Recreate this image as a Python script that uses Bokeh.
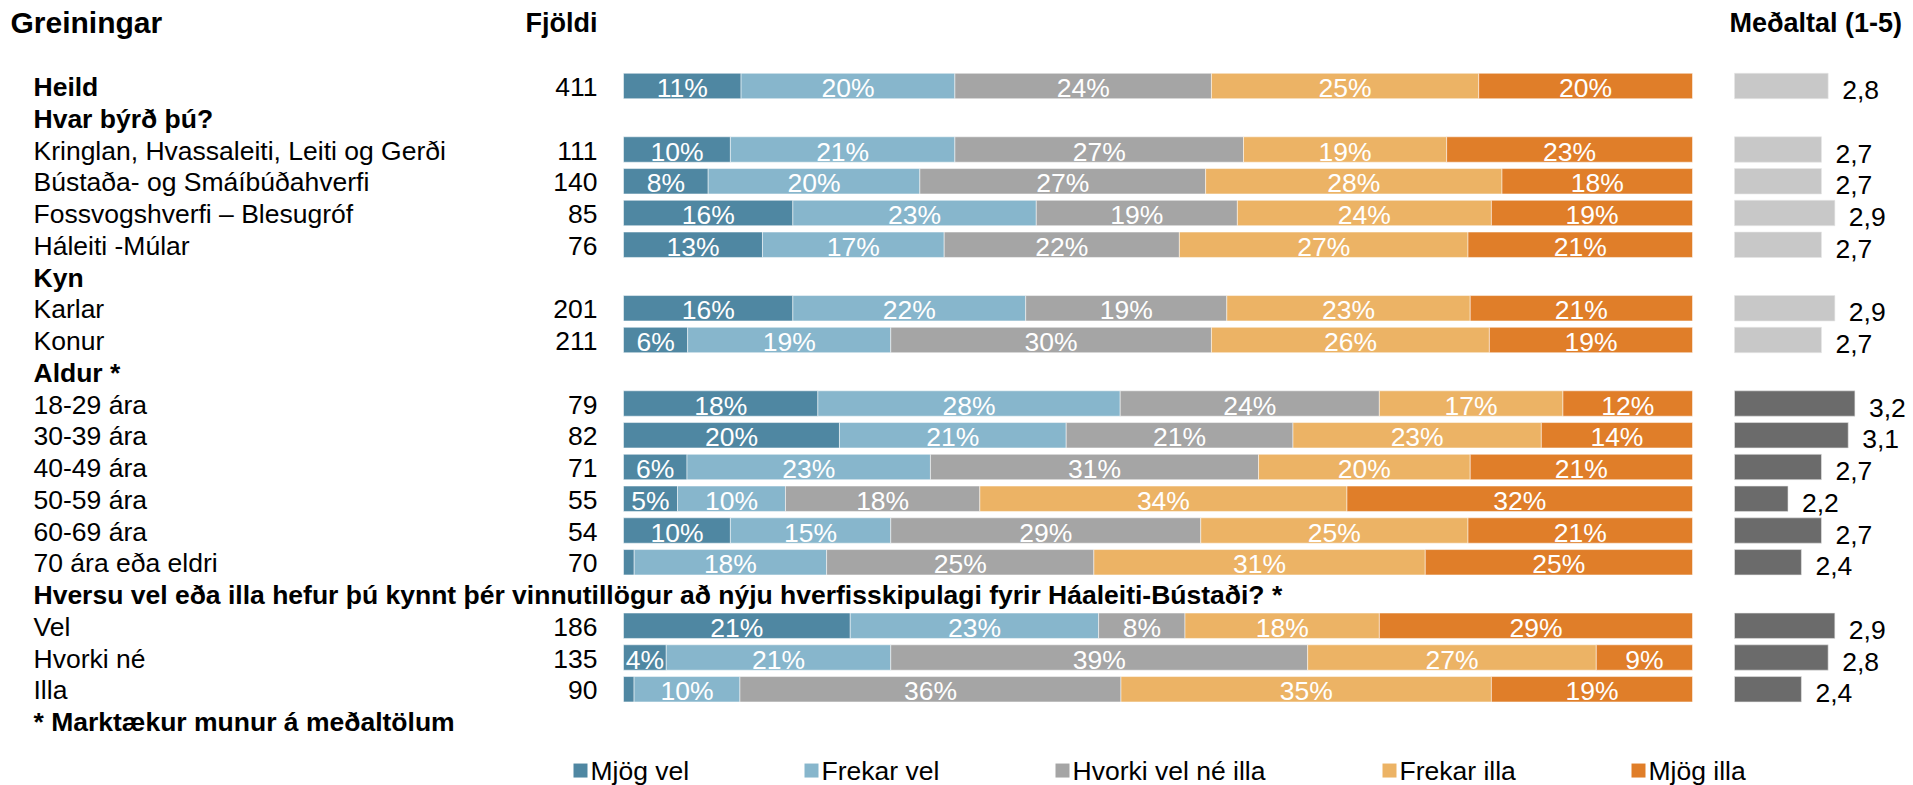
from bokeh.plotting import figure
from bokeh.models import Range1d, ColumnDataSource
from bokeh.core.properties import value
from bokeh.embed import file_html
from bokeh.resources import INLINE

# ---------------- data ----------------
row_labels = [
    "Heild",
    "Hvar býrð þú?",
    "Kringlan, Hvassaleiti, Leiti og Gerði",
    "Bústaða- og Smáíbúðahverfi",
    "Fossvogshverfi – Blesugróf",
    "Háleiti -Múlar",
    "Kyn",
    "Karlar",
    "Konur",
    "Aldur *",
    "18-29 ára",
    "30-39 ára",
    "40-49 ára",
    "50-59 ára",
    "60-69 ára",
    "70 ára eða eldri",
    "Hversu vel eða illa hefur þú kynnt þér vinnutillögur að nýju hverfisskipulagi fyrir Háaleiti-Bústaði? *",
    "Vel",
    "Hvorki né",
    "Illa",
    "* Marktækur munur á meðaltölum",
]
bold_rows = [
    "Heild",
    "Hvar býrð þú?",
    "Kyn",
    "Aldur *",
    "Hversu vel eða illa hefur þú kynnt þér vinnutillögur að nýju hverfisskipulagi fyrir Háaleiti-Bústaði? *",
    "* Marktækur munur á meðaltölum",
]
data_rows = [
    "Heild",
    "Kringlan, Hvassaleiti, Leiti og Gerði",
    "Bústaða- og Smáíbúðahverfi",
    "Fossvogshverfi – Blesugróf",
    "Háleiti -Múlar",
    "Karlar",
    "Konur",
    "18-29 ára",
    "30-39 ára",
    "40-49 ára",
    "50-59 ára",
    "60-69 ára",
    "70 ára eða eldri",
    "Vel",
    "Hvorki né",
    "Illa",
]
fjoldi = [411, 111, 140, 85, 76, 201, 211, 79, 82, 71, 55, 54, 70, 186, 135, 90]
mjog_vel = [11, 10, 8, 16, 13, 16, 6, 18, 20, 6, 5, 10, 1, 21, 4, 1]
frekar_vel = [20, 21, 20, 23, 17, 22, 19, 28, 21, 23, 10, 15, 18, 23, 21, 10]
hvorki = [24, 27, 27, 19, 22, 19, 30, 24, 21, 31, 18, 29, 25, 8, 39, 36]
frekar_illa = [25, 19, 28, 24, 27, 23, 26, 17, 23, 20, 34, 25, 31, 18, 27, 35]
mjog_illa = [20, 23, 18, 19, 21, 21, 19, 12, 14, 21, 32, 21, 25, 29, 9, 19]
medaltal = [2.8, 2.7, 2.7, 2.9, 2.7, 2.9, 2.7, 3.2, 3.1, 2.7, 2.2, 2.7, 2.4, 2.9, 2.8, 2.4]
marktaekt = [False] * 7 + [True] * 9

series_names = ["Mjög vel", "Frekar vel", "Hvorki vel né illa", "Frekar illa", "Mjög illa"]
series_values = [mjog_vel, frekar_vel, hvorki, frekar_illa, mjog_illa]
series_colors = ["#4F87A2", "#87B6CC", "#A5A5A5", "#ECB365", "#E07E29"]
mean_colors = {False: "#C8C8C8", True: "#6B6B6B"}

FONT = value("Liberation Sans")
FS = "26.5px"

# ---------------- layout ----------------
W, H = 1913, 785
PX0, PX100 = 623.0, 1692.0          # px of 0% and 100%
ppu = (PX100 - PX0) / 100.0
ROW0, PITCH = 85.5, 31.75            # px of first row centre, row pitch
MEAN_BASE, MEAN_PX0, MEAN_PPU = 1.4, 1734.0, 66.9

p = figure(
    width=W, height=H,
    x_range=Range1d(-PX0 / ppu, (W - PX0) / ppu),
    y_range=Range1d((H - ROW0) / PITCH, -ROW0 / PITCH),
    toolbar_location=None, output_backend="svg",
    min_border=0, x_axis_location=None, y_axis_location=None,
    outline_line_color=None,
)
p.grid.visible = False
m_start = MEAN_BASE - MEAN_PX0 / MEAN_PPU
p.extra_x_ranges = {
    "mean": Range1d(m_start, m_start + W / MEAN_PPU),
    "px": Range1d(0, W),
}

ys = [row_labels.index(r) for r in data_rows]
BAR_H = 0.80

# stacked 100% bars
totals = [sum(s[i] for s in series_values) for i in range(len(data_rows))]
cum = [0.0] * len(data_rows)
for name, vals, col in zip(series_names, series_values, series_colors):
    left = list(cum)
    right = [cum[i] + vals[i] * 100.0 / totals[i] for i in range(len(vals))]
    cum = right
    src = ColumnDataSource(dict(
        y=ys, left=left, right=right,
        mid=[(a + b) / 2 for a, b in zip(left, right)],
        lab=[f"{v}%" if v >= 3 else "" for v in vals],
    ))
    p.hbar(y="y", left="left", right="right", height=BAR_H, source=src,
           fill_color=col, line_color="white", line_width=0.5)
    p.text(x="mid", y="y", text="lab", source=src, text_font=FONT,
           text_font_size=FS, text_color="white", text_align="center",
           text_baseline="middle", y_offset=2)

# mean bars
msrc = ColumnDataSource(dict(
    y=ys, m=medaltal,
    col=[mean_colors[s] for s in marktaekt],
    lab=[f"{v:.1f}".replace(".", ",") for v in medaltal],
))
p.hbar(y="y", left=MEAN_BASE, right="m", height=BAR_H, source=msrc,
       fill_color="col", line_color="#E6E6E6", line_width=0.6, x_range_name="mean")
p.text(x="m", y="y", text="lab", source=msrc, x_range_name="mean", x_offset=14,
       y_offset=4, text_font=FONT, text_font_size=FS, text_color="black",
       text_align="left", text_baseline="middle")

# counts
csrc = ColumnDataSource(dict(y=ys, x=[597] * len(ys), lab=[str(n) for n in fjoldi]))
p.text(x="x", y="y", text="lab", source=csrc, x_range_name="px", text_font=FONT,
       text_font_size=FS, text_color="black", text_align="right",
       text_baseline="middle", y_offset=1)

# row labels
reg = [(i, t) for i, t in enumerate(row_labels) if t not in bold_rows]
bld = [(i, t) for i, t in enumerate(row_labels) if t in bold_rows]
for rows, style in ((reg, "normal"), (bld, "bold")):
    src = ColumnDataSource(dict(y=[r[0] for r in rows], x=[33] * len(rows),
                                lab=[r[1] for r in rows]))
    p.text(x="x", y="y", text="lab", source=src, x_range_name="px",
           text_font=FONT, text_font_size=FS, text_font_style=style,
           text_color="black", text_align="left", text_baseline="middle", y_offset=1)

# column headers
hdr_y = -2.0
p.text(x=[10], y=[hdr_y], text=["Greiningar"], x_range_name="px", text_font=FONT,
       text_font_size="30px", text_font_style="bold", text_color="black",
       text_align="left", text_baseline="middle")
p.text(x=[597], y=[hdr_y], text=["Fjöldi"], x_range_name="px", text_font=FONT,
       text_font_size="27px", text_font_style="bold", text_color="black",
       text_align="right", text_baseline="middle")
p.text(x=[1729], y=[hdr_y], text=["Meðaltal (1-5)"], x_range_name="px", text_font=FONT,
       text_font_size="27px", text_font_style="bold", text_color="black",
       text_align="left", text_baseline="middle")

# legend
leg_x = [573, 804, 1055, 1382, 1631]
leg_y = 21.56
p.rect(x=[x + 7 for x in leg_x], y=[leg_y] * 5, width=14, height=14,
       width_units="screen", height_units="screen", x_range_name="px",
       fill_color=series_colors, line_color=None)
p.text(x=[x + 17 for x in leg_x], y=[leg_y] * 5, text=series_names, x_range_name="px",
       text_font=FONT, text_font_size=FS, text_color="black",
       text_align="left", text_baseline="middle")

open("out.html", "w").write(file_html(p, INLINE))
